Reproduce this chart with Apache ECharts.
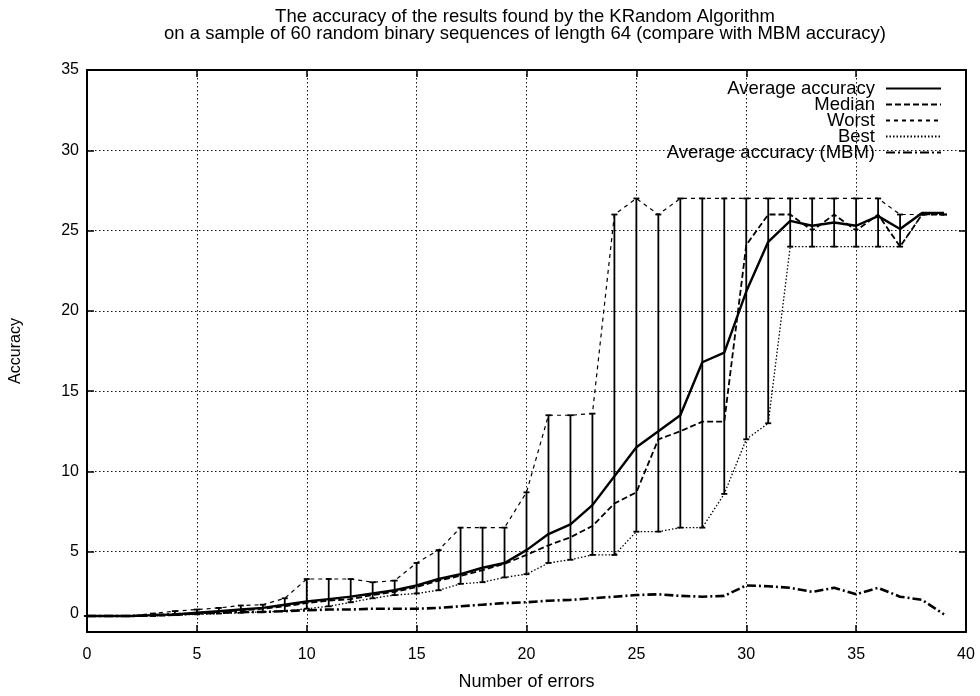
<!DOCTYPE html>
<html>
<head>
<meta charset="utf-8">
<title>KRandom accuracy</title>
<script src="https://cdn.jsdelivr.net/npm/echarts@6.0.0/dist/echarts.min.js"></script>
<style>
  html, body { margin: 0; padding: 0; background: #fff; }
  #chart { width: 980px; height: 696px; }
</style>
</head>
<body>
<div id="chart"></div>
<script>
// Number of errors (x values)
const errors = [0, 1, 2, 3, 4, 5, 6, 7, 8, 9,
                10, 11, 12, 13, 14, 15, 16, 17, 18, 19,
                20, 21, 22, 23, 24, 25, 26, 27, 28, 29,
                30, 31, 32, 33, 34, 35, 36, 37, 38, 39];

// KRandom: average accuracy over the 60 sequences
const average = [1, 1, 1, 1.05, 1.1, 1.2, 1.3, 1.4, 1.5, 1.7,
                 1.9, 2.05, 2.2, 2.4, 2.6, 2.9, 3.3, 3.6, 4.0, 4.3,
                 5.1, 6.1, 6.7, 7.9, 9.7, 11.5, 12.5, 13.5, 16.8, 17.4,
                 21.2, 24.3, 25.6, 25.3, 25.5, 25.3, 25.9, 25.1, 26.1, 26.1];

// KRandom: median accuracy
const median = [1, 1, 1, 1, 1.05, 1.15, 1.25, 1.35, 1.45, 1.6,
                1.8, 1.95, 2.05, 2.3, 2.5, 2.8, 3.2, 3.5, 3.85, 4.25,
                4.8, 5.4, 5.9, 6.6, 8.0, 8.7, 12.0, 12.5, 13.1, 13.1,
                24.1, 26, 26, 25, 26, 25, 26, 24, 26, 26];

// KRandom: worst accuracy (top of each bar)
const worst = [1, 1, 1, 1.15, 1.3, 1.4, 1.5, 1.65, 1.7, 2.1,
               3.3, 3.3, 3.3, 3.1, 3.2, 4.3, 5.1, 6.5, 6.5, 6.5,
               8.7, 13.5, 13.5, 13.6, 26, 27, 26, 27, 27, 27,
               27, 27, 27, 27, 27, 27, 27, 26, 26, 26];

// KRandom: best accuracy (bottom of each bar)
const best = [1, 1, 1, 1, 1.05, 1.1, 1.15, 1.2, 1.25, 1.3,
              1.45, 1.6, 1.85, 2.1, 2.3, 2.4, 2.6, 3.0, 3.1, 3.4,
              3.6, 4.3, 4.5, 4.8, 4.8, 6.25, 6.25, 6.5, 6.5, 8.6,
              12.0, 13.0, 24, 24, 24, 24, 24, 24, 26, 26];

// MBM: average accuracy
const mbm = [1, 1, 1, 1.05, 1.1, 1.15, 1.2, 1.25, 1.25, 1.3,
             1.35, 1.4, 1.4, 1.45, 1.45, 1.45, 1.5, 1.6, 1.7, 1.8,
             1.85, 1.95, 2.0, 2.1, 2.2, 2.3, 2.35, 2.25, 2.2, 2.25,
             2.9, 2.85, 2.75, 2.5, 2.75, 2.35, 2.75, 2.2, 2.0, 1.1];

const xTicks = [0, 5, 10, 15, 20, 25, 30, 35, 40];
const yTicks = [0, 5, 10, 15, 20, 25, 30, 35];

const FONT = '"Liberation Sans", Arial, Helvetica, sans-serif';
const INK = '#000';

const pairs = ys => errors.map((x, i) => [x, ys[i]]);

// vertical best..worst range at each error count, with small caps
function renderRange(params, api) {
  const x = api.value(0);
  const lo = api.coord([x, api.value(1)]);
  const hi = api.coord([x, api.value(2)]);
  const cap = 3;
  const style = { stroke: INK, lineWidth: 1.8 };
  return {
    type: 'group',
    children: [
      { type: 'line', shape: { x1: lo[0], y1: lo[1], x2: hi[0], y2: hi[1] }, style },
      { type: 'line', shape: { x1: hi[0] - cap, y1: hi[1], x2: hi[0] + cap, y2: hi[1] }, style },
      { type: 'line', shape: { x1: lo[0] - cap, y1: lo[1], x2: lo[0] + cap, y2: lo[1] }, style }
    ]
  };
}

const gridLine = { show: true, lineStyle: { color: '#111', width: 1, type: [1.5, 2.5] } };
const tickIn = { show: true, inside: true, length: 7, lineStyle: { color: INK, width: 1.5 } };
const labelStyle = { color: INK, fontFamily: FONT, fontSize: 16 };

const chart = echarts.init(document.getElementById('chart'), null, { renderer: 'canvas' });

chart.setOption({
  backgroundColor: '#fff',
  animation: false,
  title: {
    text: 'The accuracy of the results found by the KRandom Algorithm\non a sample of 60 random binary sequences of length 64 (compare with MBM accuracy)',
    left: 525,
    top: 8,
    padding: 0,
    textAlign: 'center',
    textStyle: { color: INK, fontFamily: FONT, fontSize: 18.5, fontWeight: 'normal', lineHeight: 17 }
  },
  legend: {
    orient: 'vertical',
    right: 38,
    top: 79,
    padding: 0,
    align: 'right',
    itemWidth: 55,
    itemHeight: 10,
    itemGap: -3,
    selectedMode: false,
    itemStyle: { opacity: 0 },
    textStyle: { color: INK, fontFamily: FONT, fontSize: 18.5, padding: [0, 6, 0, 0] },
    data: ['Average accuracy', 'Median', 'Worst', 'Best', 'Average accuracy (MBM)']
  },
  grid: { left: 85, right: 14, top: 70, bottom: 60, containLabel: false },
  xAxis: [
    {
      type: 'value', min: 0, max: 40, interval: 5, position: 'bottom',
      name: 'Number of errors', nameLocation: 'middle', nameGap: 41,
      nameTextStyle: { color: INK, fontFamily: FONT, fontSize: 18 },
      axisLine: { show: true, onZero: false, lineStyle: { color: INK, width: 2 } },
      axisTick: tickIn,
      axisLabel: Object.assign({ margin: 15, formatter: v => String(v) }, labelStyle),
      splitLine: gridLine
    },
    {
      type: 'value', min: 0, max: 40, interval: 5, position: 'top',
      axisLine: { show: true, onZero: false, lineStyle: { color: INK, width: 2 } },
      axisTick: tickIn,
      axisLabel: { show: false },
      splitLine: { show: false }
    }
  ],
  yAxis: [
    {
      type: 'value', min: 0, max: 35, interval: 5, position: 'left',
      name: 'Accuracy', nameLocation: 'middle', nameGap: 63, nameRotate: 90,
      nameTextStyle: { color: INK, fontFamily: FONT, fontSize: 16 },
      axisLine: { show: true, onZero: false, lineStyle: { color: INK, width: 2 } },
      axisTick: tickIn,
      axisLabel: Object.assign({
        margin: 8,
        formatter: v => (v === 0 ? '{z|0}' : String(v)),
        rich: { z: { color: INK, fontFamily: FONT, fontSize: 16, padding: [0, 0, 36, 0] } }
      }, labelStyle),
      splitLine: gridLine
    },
    {
      type: 'value', min: 0, max: 35, interval: 5, position: 'right',
      axisLine: { show: true, onZero: false, lineStyle: { color: INK, width: 2 } },
      axisTick: tickIn,
      axisLabel: { show: false },
      splitLine: { show: false }
    }
  ],
  series: [
    {
      name: 'Range', type: 'custom', renderItem: renderRange,
      encode: { x: 0, y: [1, 2] },
      data: errors.map((x, i) => [x, best[i], worst[i]]),
      z: 3, silent: true
    },
    {
      name: 'Average accuracy', type: 'line', data: pairs(average),
      symbol: 'none', color: INK,
      lineStyle: { color: INK, width: 2.4, type: 'solid' }, z: 6
    },
    {
      name: 'Median', type: 'line', data: pairs(median),
      symbol: 'none', color: INK,
      lineStyle: { color: INK, width: 1.8, type: [6, 3] }, z: 5
    },
    {
      name: 'Worst', type: 'line', data: pairs(worst),
      symbol: 'none', color: INK,
      lineStyle: { color: INK, width: 1.2, type: [4, 4] }, z: 4
    },
    {
      name: 'Best', type: 'line', data: pairs(best),
      symbol: 'none', color: INK,
      lineStyle: { color: INK, width: 1.3, type: [1.5, 2] }, z: 4
    },
    {
      name: 'Average accuracy (MBM)', type: 'line', data: pairs(mbm),
      symbol: 'none', color: INK,
      lineStyle: { color: INK, width: 2.6, type: [9, 3, 2, 3] }, z: 5
    }
  ]
});
</script>
</body>
</html>
